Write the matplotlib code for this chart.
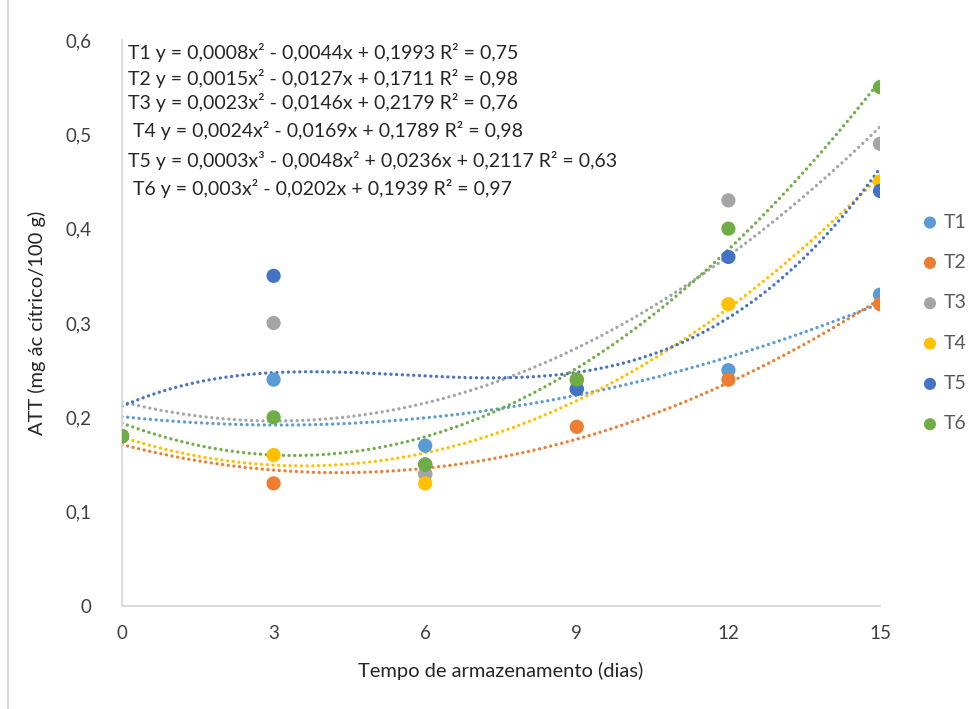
import numpy as np
import matplotlib
matplotlib.use("Agg")
import matplotlib.pyplot as plt
from matplotlib.lines import Line2D

plt.rcParams['font.family'] = ['Lato', 'DejaVu Sans']

# storage days
dias = [0, 3, 6, 9, 12, 15]

# ATT readings per treatment
t1 = [0.18, 0.24, 0.17, 0.23, 0.25, 0.33]
t2 = [0.18, 0.13, 0.14, 0.19, 0.24, 0.32]
t3 = [0.18, 0.30, 0.14, 0.24, 0.43, 0.49]
t4 = [0.18, 0.16, 0.13, 0.24, 0.32, 0.45]
t5 = [0.18, 0.35, 0.15, 0.23, 0.37, 0.44]
t6 = [0.18, 0.20, 0.15, 0.24, 0.40, 0.55]

nomes = ["T1", "T2", "T3", "T4", "T5", "T6"]
graus = [2, 2, 2, 2, 3, 2]
equacoes = [
    "T1 y = 0,0008x² - 0,0044x + 0,1993 R² = 0,75",
    "T2 y = 0,0015x² - 0,0127x + 0,1711 R² = 0,98",
    "T3 y = 0,0023x² - 0,0146x + 0,2179 R² = 0,76",
    " T4 y = 0,0024x² - 0,0169x + 0,1789 R² = 0,98",
    "T5 y = 0,0003x³ - 0,0048x² + 0,0236x + 0,2117 R² = 0,63",
    " T6 y = 0,003x² - 0,0202x + 0,1939 R² = 0,97",
]
cores = ["#5B9BD5", "#ED7D31", "#A5A5A5", "#FFC000", "#4472C4", "#70AD47"]

series = [t1, t2, t3, t4, t5, t6]

fig = plt.figure(figsize=(9.79, 7.09), dpi=100)
ax = fig.add_axes([122/979, 1 - 606/709, (880 - 122)/979, (606 - 40)/709])

xx = np.linspace(0, 15, 200)
for y, g, c in zip(series, graus, cores):
    coef = np.polyfit(dias, y, g)
    ax.plot(xx, np.polyval(coef, xx), color=c, lw=2.4, ls=(0, (0.01, 1.7)),
            dash_capstyle='round', zorder=2)
for y, c, n in zip(series, cores, nomes):
    ax.scatter(dias, y, s=105, color=c, edgecolors='none', zorder=3, label=n)

ax.set_xlim(0, 15)
ax.set_ylim(0, 0.6)
ax.set_xticks(dias)
ax.set_yticks(np.arange(0, 0.61, 0.1))
ax.set_yticklabels(["0", "0,1", "0,2", "0,3", "0,4", "0,5", "0,6"])
ax.tick_params(length=0, labelsize=13.5, colors="#404040", pad=14)
ax.tick_params(axis='y', pad=22)
for s in ["top", "right"]:
    ax.spines[s].set_visible(False)
for s in ["left", "bottom"]:
    ax.spines[s].set_color("#d9d9d9")
    ax.spines[s].set_linewidth(1.3)

ax.set_xlabel("Tempo de armazenamento (dias)", fontsize=14.5, color="#262626", labelpad=14)
ax.set_ylabel("ATT (mg ác cítrico/100 g)", fontsize=14.5, color="#262626", labelpad=14)

# trendline equations
ys = [52, 78, 103, 130, 160, 188]
for txt, yp in zip(equacoes, ys):
    fig.text(128/979, 1 - yp/709, txt, fontsize=14, color="#262626", va='center', ha='left')

leg = ax.legend(loc='center left', bbox_to_anchor=(1.03, 0.5), frameon=False,
                handletextpad=0.2, labelspacing=1.2, fontsize=14, markerscale=0.85,
                handlelength=1.0)
for t in leg.get_texts():
    t.set_color("#595959")

fig.add_artist(Line2D([8/979, 8/979], [0, 1], color="#d9d9d9", lw=1.5))

fig.savefig("out.png", dpi=100)
